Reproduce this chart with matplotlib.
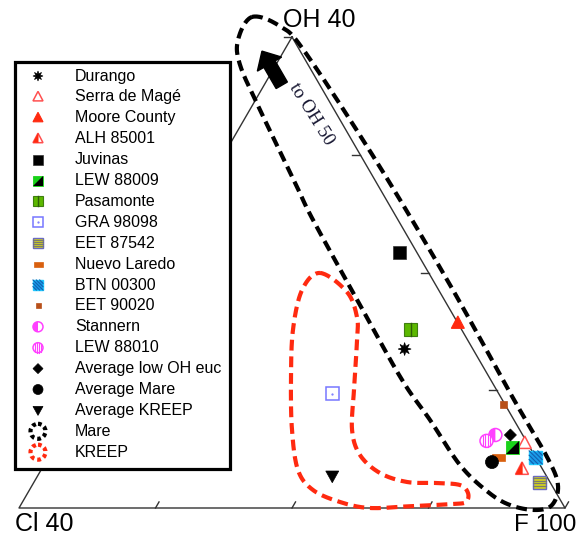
import numpy as np
import matplotlib.pyplot as plt
from matplotlib.patches import Polygon, Rectangle, Circle, Wedge, FancyArrow

plt.rcParams['font.family'] = ['Liberation Sans', 'DejaVu Sans']

# corners of the (zoomed) ternary: OH 40 top, Cl 40 left, F 100 right
corner_labels = ['OH 40', 'Cl 40', 'F 100']

samples = ['Durango', 'Serra de Magé', 'Moore County', 'ALH 85001', 'Juvinas',
           'LEW 88009', 'Pasamonte', 'GRA 98098', 'EET 87542', 'Nuevo Laredo',
           'BTN 00300', 'EET 90020', 'Stannern', 'LEW 88010',
           'Average low OH euc', 'Average Mare', 'Average KREEP']
# OH and Cl in % of the anion site (F = 100 - OH - Cl)
oh = [13.5, 5.5, 15.7, 3.3, 21.7, 5.1, 15.2, 9.7, 2.2, 4.3, 4.3, 8.8, 6.2, 5.7, 6.2, 3.9, 2.7]
cl = [5.0, 0.2, 0.0, 1.5, 1.3, 1.3, 3.7, 12.2, 0.8, 2.7, 0.0, 0.1, 2.0, 2.9, 0.9, 3.4, 15.7]
kinds = ['star', 'tri_open', 'tri', 'tri_half', 'sq_black', 'sq_diag', 'sq_pasa',
         'sq_open', 'sq_stripe', 'rect', 'sq_hatch', 'sq_small', 'circ_half',
         'circ_stripe', 'diamond', 'circ', 'tri_down']

# field outlines (OH, Cl)
mare_oh = [41.7, 40.9, 38.7, 29.0, 18.9, 9.34, 4.33, 1.95, 0.25, -0.17, 0.25, 1.36,
           3.65, 7.47, 10.87, 17.24, 24.46, 27.26, 33.8, 37.6, 39.75]
mare_cl = [2.08, 0.41, -0.32, -0.92, -1.05, -0.86, -0.85, -0.46, 0.83, 2.28, 3.9, 4.96,
           5.87, 6.15, 6.5, 6.4, 6.23, 6.0, 5.44, 5.0, 4.08]
kreep_oh = [19.96, 18.35, 16.22, 14.27, 10.02, 6.62, 4.5, 2.97, 2.21, 2.12, 1.95, 1.27,
            0.51, 0.34, 0.17, 0.0, 0.51, 1.53, 3.23, 6.62, 10.87, 15.12, 18.52]
kreep_cl = [7.97, 6.8, 7.13, 8.1, 10.45, 12.29, 12.77, 12.07, 10.47, 8.32, 6.72, 6.47,
            7.0, 8.04, 11.05, 14.29, 16.23, 17.7, 17.95, 16.69, 14.64, 12.37, 10.0]
fields = ['Mare', 'KREEP']

T = np.array([292, 37.0])
L = np.array([19, 508.0])
R = np.array([565, 508.0])


def tern(o, c):
    a = np.asarray(o, float) / 40.0
    b = np.asarray(c, float) / 40.0
    x = R[0] + a * (T[0] - R[0]) + b * (L[0] - R[0])
    y = R[1] + a * (T[1] - R[1]) + b * (L[1] - R[1])
    return x, y


def smooth_closed(x, y, n=20):
    p = np.c_[x, y]
    m = len(p)
    out = []
    for i in range(m):
        p0, p1, p2, p3 = p[i - 1], p[i], p[(i + 1) % m], p[(i + 2) % m]
        for t in np.linspace(0, 1, n, endpoint=False):
            out.append(0.5 * (2 * p1 + (-p0 + p2) * t + (2 * p0 - 5 * p1 + 4 * p2 - p3) * t ** 2
                              + (-p0 + 3 * p1 - 3 * p2 + p3) * t ** 3))
    out.append(out[0])
    out = np.array(out)
    return out[:, 0], out[:, 1]


def symbol(ax, kind, x, y, s, z=6):
    h = s / 2.0
    red = '#ff2a10'
    if kind == 'star':
        ang = np.linspace(0, 2 * np.pi, 17)[:-1]
        r = np.where(np.arange(16) % 2 == 0, h, h * 0.45)
        ax.add_patch(Polygon(np.c_[x + r * np.cos(ang), y + r * np.sin(ang)],
                             fc='black', ec='black', lw=0.5, zorder=z))
    elif kind in ('tri_open', 'tri', 'tri_half'):
        pts = [(x, y - 0.55 * s), (x + h, y + 0.4 * s), (x - h, y + 0.4 * s)]
        if kind == 'tri':
            ax.add_patch(Polygon(pts, fc=red, ec=red, lw=0.8, zorder=z))
        else:
            ax.add_patch(Polygon(pts, fc='white', ec='#ff5050', lw=1.1, zorder=z))
            if kind == 'tri_half':
                ax.add_patch(Polygon([(x, y - 0.55 * s), (x - h, y + 0.4 * s), (x + 0.05 * s, y + 0.4 * s),
                                      (x + 0.05 * s, y - 0.48 * s)], fc=red, ec='none', zorder=z))
    elif kind == 'tri_down':
        pts = [(x, y + 0.5 * s), (x + h, y - 0.4 * s), (x - h, y - 0.4 * s)]
        ax.add_patch(Polygon(pts, fc='black', ec='black', lw=0.5, zorder=z))
    elif kind == 'sq_black':
        ax.add_patch(Rectangle((x - h, y - h), s, s, fc='black', ec='#333333', lw=0.5, zorder=z))
    elif kind == 'sq_diag':
        ax.add_patch(Rectangle((x - h, y - h), s, s, fc='#19d219', ec='#19d219', lw=0.6, zorder=z))
        ax.add_patch(Polygon([(x + h, y - h), (x + h, y + h), (x - h, y + h)], fc='black', ec='none', zorder=z))
    elif kind == 'sq_pasa':
        ax.add_patch(Rectangle((x - h, y - h), s, s, fc='#5cb800', ec='#3f7f10', lw=0.8, zorder=z))
        ax.plot([x, x], [y - h, y + h], color='#2f5f08', lw=1.0, zorder=z + 0.1)
    elif kind == 'sq_open':
        ax.add_patch(Rectangle((x - h, y - h), s, s, fc='white', ec='#7777ff', lw=1.1, zorder=z))
        ax.plot([x], [y], marker='.', ms=1.2, color='#7777ff', zorder=z + 0.1)
    elif kind == 'sq_stripe':
        ax.add_patch(Rectangle((x - h, y - h), s, s, fc='#cccc22', ec='#6a6ac0', lw=1.0, zorder=z))
        for v in np.linspace(-h, h, 6)[1:-1]:
            ax.plot([x - h, x + h], [y + v, y + v], color='#7a7a70', lw=0.8, zorder=z + 0.1)
    elif kind == 'rect':
        ax.add_patch(Rectangle((x - h, y - 0.27 * s), s, 0.54 * s, fc='#d9600f', ec='#d9600f', lw=0.5, zorder=z))
    elif kind == 'sq_hatch':
        ax.add_patch(Rectangle((x - h, y - h), s, s, fc='#1a9be8', ec='#20c8ff', lw=1.0, zorder=z))
        for c in np.linspace(-2 * h, 2 * h, 7)[1:-1]:
            u0, u1 = max(-h, -h - c), min(h, h - c)
            ax.plot([x + u0, x + u1], [y + u0 + c, y + u1 + c], color='#1060b0', lw=0.8, zorder=z + 0.1)
    elif kind == 'sq_small':
        ax.add_patch(Rectangle((x - h, y - h), s, s, fc='#b8501a', ec='#b8501a', lw=0.5, zorder=z))
    elif kind == 'circ_half':
        ax.add_patch(Circle((x, y), h, fc='white', ec='#ff40ff', lw=1.1, zorder=z))
        ax.add_patch(Wedge((x, y), h, 90, 270, fc='#ff40ff', ec='none', zorder=z))
    elif kind == 'circ_stripe':
        ax.add_patch(Circle((x, y), h, fc='white', ec='#ff40ff', lw=1.1, zorder=z))
        for u in np.linspace(-h, h, 6)[1:-1]:
            w = np.sqrt(h * h - u * u)
            ax.plot([x + u, x + u], [y - w, y + w], color='#ff40ff', lw=0.8, zorder=z + 0.1)
    elif kind == 'diamond':
        ax.add_patch(Polygon([(x, y - h), (x + h, y), (x, y + h), (x - h, y)], fc='black', ec='black', lw=0.5, zorder=z))
    elif kind == 'circ':
        ax.add_patch(Circle((x, y), h, fc='black', ec='black', lw=0.5, zorder=z))
    elif kind in ('Mare', 'KREEP'):
        col = 'black' if kind == 'Mare' else red
        ax.add_patch(Circle((x, y), h, fill=False, ec=col, lw=3.0, ls=(0, (0.9, 0.75)), zorder=z))


fig = plt.figure(figsize=(5.86, 5.36), dpi=100)
ax = fig.add_axes([0, 0, 1, 1])
ax.set_xlim(0, 586)
ax.set_ylim(536, 0)
ax.axis('off')

# triangle frame
ax.plot([T[0], R[0], L[0], T[0]], [T[1], R[1], L[1], T[1]], color='#333333', lw=1.0, zorder=2)

# ticks
for f in [0.25, 0.5, 0.75, 1.0]:
    p = L + f * (R - L)           # bottom edge, ticks parallel to left edge
    d = (T - L) / np.linalg.norm(T - L) * 7
    ax.plot([p[0], p[0] + d[0]], [p[1], p[1] + d[1]], color='#333333', lw=1.0, zorder=2)
    p = R + f * (T - R)           # right edge, horizontal ticks
    ax.plot([p[0], p[0] - 8], [p[1], p[1]], color='#333333', lw=1.0, zorder=2)
for f in [0.25, 0.5, 0.75]:
    p = T + f * (L - T)
    d = (R - T) / np.linalg.norm(R - T) * 7
    ax.plot([p[0], p[0] + d[0]], [p[1], p[1] + d[1]], color='#333333', lw=1.0, zorder=2)

# fields
mx, my = smooth_closed(*tern(mare_oh, mare_cl))
ax.plot(mx, my, color='black', lw=3.0, ls=(0, (2.6, 1.4)), zorder=3)
kx, ky = smooth_closed(*tern(kreep_oh, kreep_cl))
ax.plot(kx, ky, color='#ff2a10', lw=3.0, ls=(0, (2.6, 1.4)), zorder=3)

# arrow towards OH 50
ax0, ay0 = tern(35.9, 2.8)
ax1, ay1 = tern(38.8, 2.8)
ax.add_patch(FancyArrow(float(ax0), float(ay0), float(ax1 - ax0), float(ay1 - ay0), width=13,
                        head_width=28, head_length=15, length_includes_head=True,
                        fc='black', ec='black', zorder=4))
ax.text(311, 114, 'to OH 50', rotation=-58, rotation_mode='anchor', ha='center', va='center',
        fontsize=13.5, family=['Liberation Serif', 'DejaVu Serif'], color='#151530', zorder=4)

# samples
px, py = tern(oh, cl)
sizes = {'sq_small': 7, 'rect': 13, 'star': 13, 'diamond': 12}
for name, k, x, y in zip(samples, kinds, px, py):
    symbol(ax, k, x, y, sizes.get(k, 13), z=6)

# corner labels
ax.text(283, 20, corner_labels[0], fontsize=18, ha='left', va='center')
ax.text(15, 524, corner_labels[1], fontsize=18, ha='left', va='center')
ax.text(514, 525, corner_labels[2], fontsize=17.5, ha='left', va='center')

# legend box
ax.add_patch(Rectangle((15, 62), 215, 407, fc='white', ec='black', lw=2.3, zorder=10))
entries = samples + fields
leg_kinds = kinds + fields
leg_sizes = {'sq_small': 5, 'rect': 9, 'Mare': 15, 'KREEP': 15}
for i, (name, k) in enumerate(zip(entries, leg_kinds)):
    y = 76 + i * 20.9
    symbol(ax, k, 38, y, leg_sizes.get(k, 10), z=11)
    ax.text(75, y, name, fontsize=11.5, ha='left', va='center', zorder=12)

fig.savefig('out.png', dpi=100)
